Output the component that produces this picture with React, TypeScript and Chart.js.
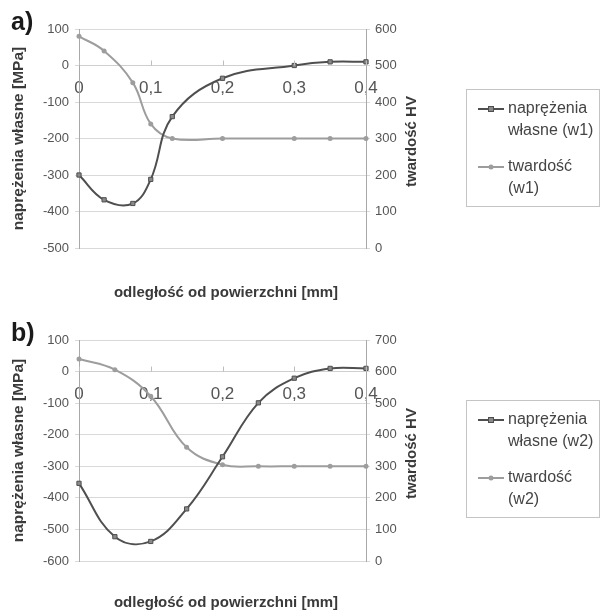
import React, { useEffect, useRef } from "react";
import { Chart, registerables } from "chart.js";
Chart.register(...registerables);

// ---- data ----
const xA = [0, 0.035, 0.075, 0.1, 0.13, 0.2, 0.3, 0.35, 0.4];
const stressA = [-300, -368, -378, -312, -140, -35, 0, 10, 10];
const hardA = [580, 540, 453, 340, 300, 300, 300, 300, 300];

const xB = [0, 0.05, 0.1, 0.15, 0.2, 0.25, 0.3, 0.35, 0.4];
const stressB = [-354, -523, -538, -435, -270, -99, -21, 10, 10];
const hardB = [640, 606, 522, 360, 305, 300, 300, 300, 300];

const xTicks = [0, 0.1, 0.2, 0.3, 0.4];
const xTickLabels = ["0", "0,1", "0,2", "0,3", "0,4"];
const panelLabels = ["a)", "b)"];
const legendA = [["naprężenia", "własne (w1)"], ["twardość", "(w1)"]];
const legendB = [["naprężenia", "własne (w2)"], ["twardość", "(w2)"]];
const yTitle = "naprężenia własne [MPa]";
const y2Title = "twardość HV";
const xTitle = "odległość od powierzchni [mm]";

const FONT = "'Liberation Sans', Arial, sans-serif";
const STRESS_COLOR = "#4f4f4f";
const HARD_COLOR = "#9d9d9d";

function makeConfig(
  xs: number[],
  stress: number[],
  hard: number[],
  leftMin: number,
  rightMax: number,
  panel: string,
  legendLines: string[][],
  topPad: number,
  bottomPad: number,
  xTitleOffset: number
): any {
  const decor = {
    id: "decor",
    afterDraw(chart: any) {
      const ctx = chart.ctx;
      const ca = chart.chartArea;
      const midY = (ca.top + ca.bottom) / 2;
      ctx.save();
      // panel label
      ctx.fillStyle = "#1a1a1a";
      ctx.font = `bold 25px ${FONT}`;
      ctx.textAlign = "left";
      ctx.textBaseline = "alphabetic";
      ctx.fillText(panel, 11, ca.top + 1);
      // left title
      ctx.fillStyle = "#3a3a3a";
      ctx.font = `bold 15.5px ${FONT}`;
      ctx.textAlign = "center";
      ctx.textBaseline = "middle";
      ctx.save();
      ctx.translate(19, midY);
      ctx.rotate(-Math.PI / 2);
      ctx.fillText(yTitle, 0, 0);
      ctx.restore();
      // right title
      ctx.font = `bold 15px ${FONT}`;
      ctx.save();
      ctx.translate(412, midY + 3);
      ctx.rotate(-Math.PI / 2);
      ctx.fillText(y2Title, 0, 0);
      ctx.restore();
      // x title
      ctx.fillText(xTitle, 226, ca.bottom + xTitleOffset);
      // legend
      const top = ca.top + 60;
      ctx.strokeStyle = "#c4c4c4";
      ctx.lineWidth = 1;
      ctx.strokeRect(466.5, top + 0.5, 133, 117);
      const items = [
        { color: STRESS_COLOR, rect: true, y: ca.top + 80, lines: legendLines[0] },
        { color: HARD_COLOR, rect: false, y: ca.top + 138, lines: legendLines[1] },
      ];
      ctx.font = `16px ${FONT}`;
      ctx.textAlign = "left";
      ctx.textBaseline = "middle";
      for (const it of items) {
        ctx.strokeStyle = it.color;
        ctx.lineWidth = 2;
        ctx.beginPath();
        ctx.moveTo(478, it.y);
        ctx.lineTo(504, it.y);
        ctx.stroke();
        if (it.rect) {
          ctx.fillStyle = "#8a8a8a";
          ctx.fillRect(488.5, it.y - 2.5, 5, 5);
          ctx.lineWidth = 1;
          ctx.strokeStyle = STRESS_COLOR;
          ctx.strokeRect(488.5, it.y - 2.5, 5, 5);
        } else {
          ctx.fillStyle = HARD_COLOR;
          ctx.beginPath();
          ctx.arc(491, it.y, 2.5, 0, Math.PI * 2);
          ctx.fill();
        }
        ctx.fillStyle = "#444";
        it.lines.forEach((ln, i) => ctx.fillText(ln, 508, it.y + i * 22));
      }
      // x axis small tick marks (pointing up)
      const xs0 = chart.scales.x;
      const y0 = chart.scales.y.getPixelForValue(0);
      ctx.strokeStyle = "#bdbdbd";
      ctx.lineWidth = 1;
      for (const v of xTicks) {
        const px = Math.round(xs0.getPixelForValue(v)) + 0.5;
        ctx.beginPath();
        ctx.moveTo(px, y0 - 5);
        ctx.lineTo(px, y0);
        ctx.stroke();
      }
      ctx.restore();
    },
  };

  return {
    type: "line",
    data: {
      datasets: [
        {
          label: legendLines[0].join(" "),
          data: xs.map((x, i) => ({ x, y: stress[i] })),
          yAxisID: "y",
          borderColor: STRESS_COLOR,
          borderWidth: 2,
          pointStyle: "rect",
          pointRadius: 3,
          pointBackgroundColor: "#8a8a8a",
          pointBorderColor: STRESS_COLOR,
          pointBorderWidth: 1,
          tension: 0.4,
          fill: false,
          clip: false,
        },
        {
          label: legendLines[1].join(" "),
          data: xs.map((x, i) => ({ x, y: hard[i] })),
          yAxisID: "y2",
          borderColor: HARD_COLOR,
          borderWidth: 2,
          pointStyle: "circle",
          pointRadius: 2.5,
          pointBackgroundColor: HARD_COLOR,
          pointBorderColor: HARD_COLOR,
          pointBorderWidth: 0,
          tension: 0.4,
          fill: false,
          clip: false,
        },
      ],
    },
    options: {
      animation: false,
      responsive: false,
      devicePixelRatio: 1,
      layout: { padding: { top: topPad, bottom: bottomPad, left: 0, right: 175 } },
      plugins: { legend: { display: false }, tooltip: { enabled: false }, title: { display: false } },
      scales: {
        x: {
          type: "linear",
          min: 0,
          max: 0.4,
          position: { y: 0 },
          afterFit: (s: any) => {
            s.height = 0;
          },
          afterBuildTicks: (s: any) => {
            s.ticks = xTicks.map((v) => ({ value: v }));
          },
          ticks: {
            callback: (_v: any, i: number) => xTickLabels[i],
            font: { size: 17, family: FONT },
            color: "#555",
            padding: 13,
            maxRotation: 0,
            autoSkip: false,
          },
          grid: { display: true, drawOnChartArea: false, drawTicks: false, tickLength: 4 },
          border: { display: true, color: "#cfcfcf", width: 1 },
        },
        y: {
          type: "linear",
          position: "left",
          min: leftMin,
          max: 100,
          afterFit: (s: any) => {
            s.width = 79;
          },
          ticks: { stepSize: 100, font: { size: 13, family: FONT }, color: "#555", padding: 6 },
          grid: { color: "#d9d9d9", tickLength: 4, drawTicks: true },
          border: { color: "#a8a8a8", width: 1 },
        },
        y2: {
          type: "linear",
          position: "right",
          min: 0,
          max: rightMax,
          afterFit: (s: any) => {
            s.width = 60;
          },
          ticks: { stepSize: 100, font: { size: 13, family: FONT }, color: "#555", padding: 5 },
          grid: { drawOnChartArea: false, color: "#d9d9d9", tickLength: 4, drawTicks: true },
          border: { color: "#a8a8a8", width: 1 },
        },
      },
    },
    plugins: [decor],
  };
}

function ChartCanvas(props: { config: () => any; top: number; height: number }) {
  const ref = useRef<HTMLCanvasElement | null>(null);
  useEffect(() => {
    if (!ref.current) return;
    const chart = new Chart(ref.current, props.config());
    return () => chart.destroy();
  }, []);
  return (
    <canvas
      ref={ref}
      width={601}
      height={props.height}
      style={{ position: "absolute", left: 0, top: props.top, width: 601, height: props.height, display: "block" }}
    />
  );
}

export default function App() {
  Chart.defaults.font.family = FONT;
  return (
    <div style={{ position: "absolute", left: 0, top: 0, width: 601, height: 611, background: "#fff", overflow: "hidden" }}>
      <ChartCanvas
        top={0}
        height={300}
        config={() => makeConfig(xA, stressA, hardA, -500, 600, panelLabels[0], legendA, 29, 52, 45)}
      />
      <ChartCanvas
        top={300}
        height={311}
        config={() => makeConfig(xB, stressB, hardB, -600, 700, panelLabels[1], legendB, 40, 50, 42)}
      />
    </div>
  );
}
